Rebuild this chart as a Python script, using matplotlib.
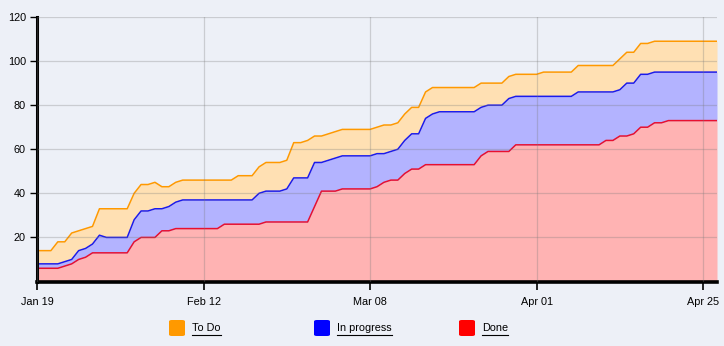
import pandas as pd
import matplotlib.pyplot as plt
import matplotlib.dates as mdates
from matplotlib.patches import FancyBboxPatch
from matplotlib.lines import Line2D

# daily cumulative totals (top of each band), Jan 19 -> Apr 27
dates = pd.date_range("2023-01-19", "2023-04-27", freq="D")

todo = [14, 14, 14, 18, 18, 22, 23, 24, 25, 33,
        33, 33, 33, 33, 40, 44, 44, 45, 43, 43,
        45, 46, 46, 46, 46, 46, 46, 46, 46, 48,
        48, 48, 52, 54, 54, 54, 55, 63, 63, 64,
        66, 66, 67, 68, 69, 69, 69, 69, 69, 70,
        71, 71, 72, 76, 79, 79, 86, 88, 88, 88,
        88, 88, 88, 88, 90, 90, 90, 90, 93, 94,
        94, 94, 94, 95, 95, 95, 95, 95, 98, 98,
        98, 98, 98, 98, 101, 104, 104, 108, 108, 109,
        109, 109, 109, 109, 109, 109, 109, 109, 109]

in_progress = [8, 8, 8, 8, 9, 10, 14, 15, 17, 21,
               20, 20, 20, 20, 28, 32, 32, 33, 33, 34,
               36, 37, 37, 37, 37, 37, 37, 37, 37, 37,
               37, 37, 40, 41, 41, 41, 42, 47, 47, 47,
               54, 54, 55, 56, 57, 57, 57, 57, 57, 58,
               58, 59, 60, 64, 67, 67, 74, 76, 77, 77,
               77, 77, 77, 77, 79, 80, 80, 80, 83, 84,
               84, 84, 84, 84, 84, 84, 84, 84, 86, 86,
               86, 86, 86, 86, 87, 90, 90, 94, 94, 95,
               95, 95, 95, 95, 95, 95, 95, 95, 95]

done = [6, 6, 6, 6, 7, 8, 10, 11, 13, 13,
        13, 13, 13, 13, 18, 20, 20, 20, 23, 23,
        24, 24, 24, 24, 24, 24, 24, 26, 26, 26,
        26, 26, 26, 27, 27, 27, 27, 27, 27, 27,
        34, 41, 41, 41, 42, 42, 42, 42, 42, 43,
        45, 46, 46, 49, 51, 51, 53, 53, 53, 53,
        53, 53, 53, 53, 57, 59, 59, 59, 59, 62,
        62, 62, 62, 62, 62, 62, 62, 62, 62, 62,
        62, 62, 64, 64, 66, 66, 67, 70, 70, 72,
        72, 73, 73, 73, 73, 73, 73, 73, 73]

tick_dates = pd.to_datetime(["2023-01-19", "2023-02-12", "2023-03-08",
                             "2023-04-01", "2023-04-25"])
tick_labels = ["Jan 19", "Feb 12", "Mar 08", "Apr 01", "Apr 25"]
legend_labels = ["To Do", "In progress", "Done"]

BG = "#edf0f7"
FONT = "Liberation Sans"

fig = plt.figure(figsize=(7.24, 3.46), dpi=100, facecolor=BG)
ax = fig.add_axes([37 / 724, 1 - 281.5 / 346, 680 / 724, 264.5 / 346])
ax.set_facecolor(BG)

ax.fill_between(dates, 0, done, color="#ffb3b3", lw=0)
ax.fill_between(dates, done, in_progress, color="#b3b3ff", lw=0)
ax.fill_between(dates, in_progress, todo, color="#ffe0b3", lw=0)
ax.plot(dates, todo, color="#ff9900", lw=1.1)
ax.plot(dates, in_progress, color="#1a1aee", lw=1.1)
ax.plot(dates, done, color="#e8102f", lw=1.1)

ax.set_xlim(dates[0], dates[-1])
ax.set_ylim(0, 120)
ax.set_yticks([20, 40, 60, 80, 100, 120])
ax.set_xticks(tick_dates)
ax.set_xticklabels(tick_labels)
ax.xaxis.set_major_formatter(mdates.DateFormatter("%b %d"))
ax.set_xticklabels(tick_labels)

ax.set_axisbelow(False)
ax.grid(True, color="#7a7a7a", alpha=0.3, lw=0.9)

for s in ["top", "right"]:
    ax.spines[s].set_visible(False)
ax.spines["left"].set_linewidth(2.2)
ax.spines["bottom"].set_linewidth(2.6)
ax.tick_params(axis="x", length=6, width=1.2, pad=5, labelsize=7.8)
ax.tick_params(axis="y", length=5, width=1, pad=3, labelsize=7.8)
for lab in ax.get_xticklabels() + ax.get_yticklabels():
    lab.set_fontfamily(FONT)

# legend: rounded squares with underlined labels
colors = ["#ff9900", "#0000ff", "#ff0000"]
sq_x = [169, 314, 459]
W, H = 724, 346
for c, x0, label in zip(colors, sq_x, legend_labels):
    fig.patches.append(FancyBboxPatch(
        (x0 / W, 1 - 336 / H), 16 / W, 16 / H,
        boxstyle="round,pad=0,rounding_size=0.004",
        transform=fig.transFigure, facecolor=c, edgecolor="none"))
    t = fig.text((x0 + 23) / W, 1 - 328 / H, label, fontsize=7.8,
                 family=FONT, va="center", ha="left")
    fig.canvas.draw()
    bb = t.get_window_extent()
    fig.lines.append(Line2D([bb.x0 / W, bb.x1 / W],
                            [1 - 334.5 / H, 1 - 334.5 / H],
                            transform=fig.transFigure, color="black", lw=0.8))

fig.savefig("out.png", dpi=100, facecolor=BG)
